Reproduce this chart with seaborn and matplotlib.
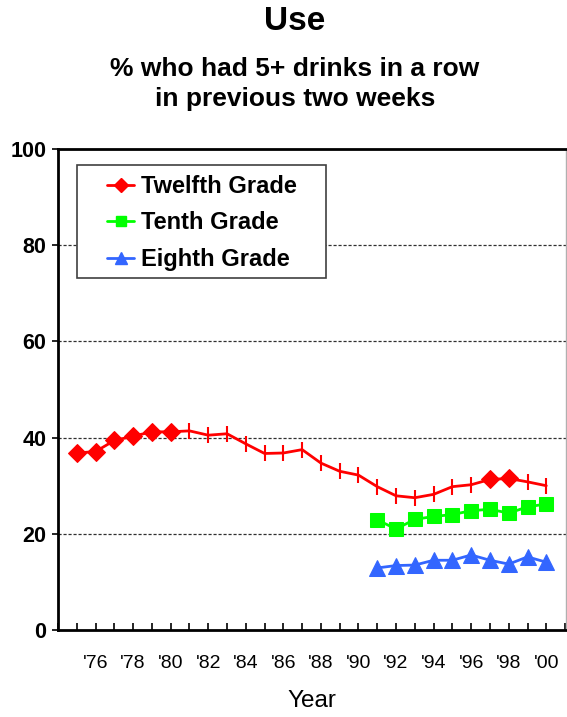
import numpy as np
import pandas as pd
import matplotlib.pyplot as plt
import seaborn as sns
from matplotlib.lines import Line2D
from matplotlib.patches import Rectangle
from matplotlib.ticker import MultipleLocator


sns.set_theme(style="white")
plt.rcParams["font.family"] = ["Liberation Sans", "DejaVu Sans"]
plt.rcParams.update({"text.color": "black", "axes.labelcolor": "black",
                     "xtick.color": "black", "ytick.color": "black"})

years_12 = list(range(1975, 2001))
twelfth = [36.8, 37.1, 39.4, 40.3, 41.2, 41.2, 41.4, 40.5, 40.8, 38.7, 36.7, 36.8, 37.5,
           34.7, 33.0, 32.2, 29.8, 27.9, 27.5, 28.2, 29.8, 30.2, 31.3, 31.5, 30.8, 30.0]
# years drawn with a diamond instead of a tick mark
diamond_years = [1975, 1976, 1977, 1978, 1979, 1980, 1997, 1998]

years_lower = list(range(1991, 2001))
tenth = [22.9, 21.0, 23.0, 23.6, 24.0, 24.8, 25.1, 24.3, 25.6, 26.2]
eighth = [12.9, 13.4, 13.5, 14.5, 14.5, 15.6, 14.5, 13.7, 15.2, 14.1]

tick_years = list(range(1976, 2001, 2))
tick_labels = ["'" + str(y)[2:] for y in tick_years]

red, green, blue = "#FF0000", "#00FF00", "#3366FF"

df12 = pd.DataFrame({"Year": years_12, "Pct": twelfth})
df10 = pd.DataFrame({"Year": years_lower, "Pct": tenth})
df8 = pd.DataFrame({"Year": years_lower, "Pct": eighth})
df12_dia = df12[df12["Year"].isin(diamond_years)]

fig = plt.figure(figsize=(5.67, 7.17), dpi=100)
ax = fig.add_axes([58 / 567, 1 - 630 / 717, 508 / 567, 481 / 717])

for y in [20, 40, 60, 80]:
    ax.axhline(y, color="#303030", lw=0.9, ls=(0, (2.5, 1.5)), zorder=0)

sns.lineplot(data=df12, x="Year", y="Pct", color=red, lw=2, marker="|",
             markersize=12, markeredgewidth=1.5, markeredgecolor=red, ax=ax)
sns.lineplot(data=df12_dia, x="Year", y="Pct", color=red, lw=0, marker="D",
             markersize=9.5, markeredgecolor=red, ax=ax)
sns.lineplot(data=df10, x="Year", y="Pct", color=green, lw=2, marker="s",
             markersize=10, markeredgecolor=green, ax=ax)
sns.lineplot(data=df8, x="Year", y="Pct", color=blue, lw=2, marker="^",
             markersize=11.5, markeredgecolor=blue, ax=ax)

ax.set_xlim(1974, 2001.05)
ax.set_ylim(0, 100)
ax.set_xticks(tick_years)
ax.set_xticklabels(tick_labels, fontsize=14)
ax.xaxis.set_minor_locator(MultipleLocator(1))
ax.tick_params(axis="x", which="both", direction="in", length=5, width=1.2,
               bottom=True, pad=18)
ax.set_yticks([0, 20, 40, 60, 80, 100])
ax.set_yticklabels(["0", "20", "40", "60", "80", "100"], fontsize=15.5, fontweight="bold")
ax.tick_params(axis="y", direction="out", length=4, width=1.2, left=True, pad=4.5)

for side in ["left", "bottom", "top"]:
    ax.spines[side].set_color("black")
    ax.spines[side].set_linewidth(2)
ax.spines["right"].set_color("#b0b0b0")
ax.spines["right"].set_linewidth(1)

ax.set_xlabel("Year", fontsize=17.5, labelpad=13)
ax.set_ylabel("")

# legend frame drawn on its own so the padding matches the reference
ax.add_patch(Rectangle((0.0374, 0.732), 0.490, 0.235, transform=ax.transAxes,
                       facecolor="white", edgecolor="#404040", lw=1.2, zorder=4))

handles = [
    Line2D([], [], color=red, lw=2, marker="D", markersize=7),
    Line2D([], [], color=green, lw=2, marker="s", markersize=7),
    Line2D([], [], color=blue, lw=2, marker="^", markersize=8),
]
leg = ax.legend(handles, ["Twelfth Grade", "Tenth Grade", "Eighth Grade"],
                loc="upper left", bbox_to_anchor=(0.0965, 0.946), frameon=False,
                prop={"weight": "bold", "size": 17},
                handlelength=1.15, labelspacing=0.57, borderpad=0, handletextpad=0.3,
                borderaxespad=0)
leg.set_zorder(5)

fig.text(0.52, 1 - 22 / 717, "Use", ha="center", va="center", fontsize=24, fontweight="bold")
fig.text(0.52, 1 - 84 / 717, "% who had 5+ drinks in a row\nin previous two weeks",
         ha="center", va="center", fontsize=19, fontweight="bold", linespacing=1.3)

fig.savefig("out.png", dpi=100)
